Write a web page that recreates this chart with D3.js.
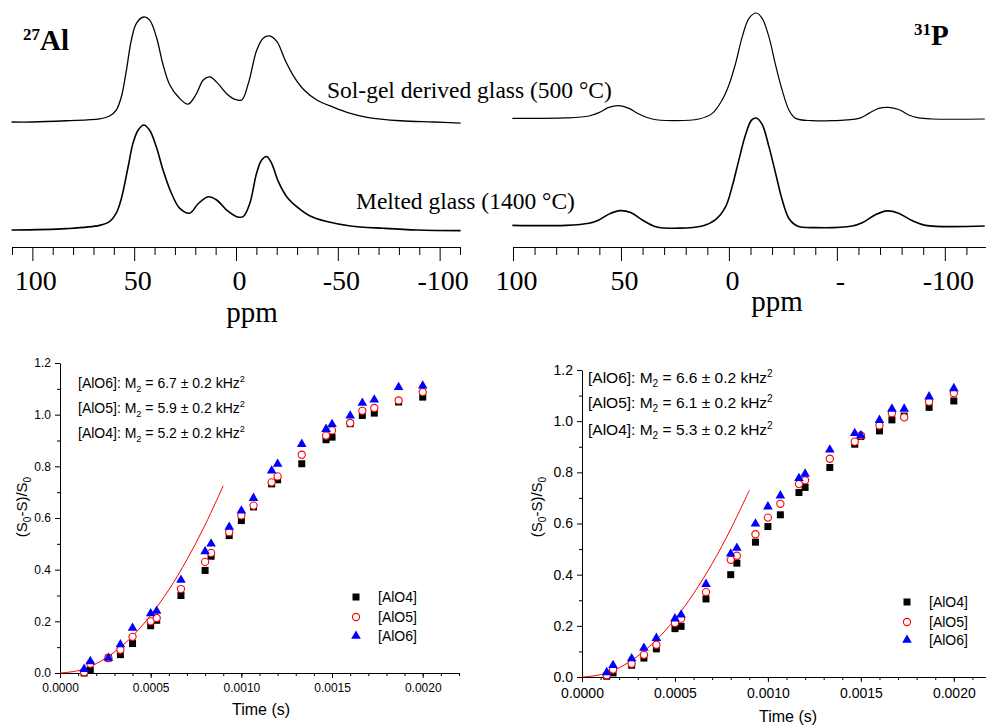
<!DOCTYPE html>
<html>
<head>
<meta charset="utf-8">
<script src="https://cdn.jsdelivr.net/npm/d3@7"></script>
<style>
  body { margin: 0; background: #fff; }
  svg { display: block; }
</style>
</head>
<body>
<script>
// ---- spectra (ppm vs. relative intensity) ----
var alPpm1 = [110.2, 99.8, 83.4, 67, 62.1, 58.8, 56.3, 53.8, 51.4, 48.9, 45.3, 42.4, 39.1, 35.8, 32.5, 28.4, 23.5, 19.4, 16.1, 12.8, 9.5, 4.6, 0.5, -2.8, -6.1, -10.2, -13.5, -16.4, -20.1, -24.1, -28.2, -33.2, -39.7, -48, -56.2, -64.4, -80.8, -97, -110.3];
var alInt1 = [0, 0, 0.012, 0.03, 0.057, 0.114, 0.24, 0.495, 0.78, 0.94, 1.0, 0.97, 0.81, 0.543, 0.352, 0.24, 0.17, 0.27, 0.4, 0.43, 0.38, 0.27, 0.216, 0.21, 0.37, 0.686, 0.8, 0.82, 0.765, 0.59, 0.44, 0.31, 0.21, 0.14, 0.083, 0.045, 0.012, 0, -0.01];

var alPpm2 = [110.2, 83.4, 67, 62.1, 58.8, 56.3, 53, 50.6, 48.1, 45.3, 42.4, 39.1, 35.8, 31.7, 27.6, 22.7, 18.6, 13.6, 9.5, 4.6, -0.3, -3.5, -6.8, -10.1, -12.6, -15.1, -17.5, -20.8, -24.9, -29.8, -36.4, -44.6, -56.2, -72.6, -89, -110.3];
var alInt2 = [0, 0.013, 0.044, 0.08, 0.16, 0.3, 0.6, 0.825, 0.95, 1.0, 0.95, 0.79, 0.57, 0.35, 0.206, 0.16, 0.25, 0.317, 0.286, 0.19, 0.127, 0.127, 0.254, 0.54, 0.667, 0.7, 0.635, 0.46, 0.317, 0.222, 0.133, 0.08, 0.038, 0.016, 0, -0.006];

var pPpm1 = [100.3, 75.6, 64.8, 60.2, 55.6, 50.9, 46.3, 41.7, 35.5, 26.2, 13.9, 7.7, 3.1, 0, -3.1, -6.2, -9.3, -12.7, -15.4, -18.5, -21.6, -24.7, -27.8, -30.9, -38.6, -47.8, -60.2, -64.8, -69.4, -74, -78.6, -83.3, -87.9, -94.1, -118.5];
var pInt1 = [0.006, 0.01, 0.028, 0.06, 0.11, 0.126, 0.1, 0.047, 0, -0.016, 0, 0.053, 0.18, 0.32, 0.525, 0.777, 0.95, 1.0, 0.95, 0.777, 0.51, 0.27, 0.085, 0.006, -0.016, -0.016, 0.006, 0.053, 0.1, 0.11, 0.09, 0.038, 0.01, 0, 0];

var pPpm2 = [100.3, 75.6, 64.8, 60.2, 55.6, 50.2, 45.5, 40.1, 33.9, 23.1, 12.3, 6.2, 1.5, -1.5, -4.6, -7.7, -10.5, -12.7, -15.4, -18.5, -21.6, -24.7, -27.8, -31.7, -40.1, -57.1, -61.7, -67.9, -73.3, -78.6, -84.8, -91, -118.5];
var pInt2 = [0.006, 0.006, 0.025, 0.056, 0.11, 0.142, 0.124, 0.056, -0.006, -0.02, 0, 0.06, 0.18, 0.365, 0.61, 0.845, 0.98, 1.0, 0.94, 0.737, 0.49, 0.24, 0.07, 0, -0.015, 0, 0.03, 0.105, 0.14, 0.118, 0.05, 0.006, 0];

var spectrumTicks = [100, 50, 0, -50, -100];
var alTickLabels = ["100", "50", "0", "-50", "-100"];
var pTickLabels = ["100", "50", "0", "-", "-100"];

// ---- REDOR-type curves (time in s vs. (S0-S)/S0) ----
var times = [0.000133, 0.000167, 0.000267, 0.000333, 0.0004, 0.0005, 0.000533, 0.000667, 0.0008, 0.000833, 0.000933, 0.001, 0.001067, 0.001167, 0.0012, 0.001333, 0.001467, 0.0015, 0.0016, 0.001667, 0.001733, 0.001867, 0.002];

var alo4Left = [0.0, 0.01, 0.058, 0.071, 0.114, 0.183, 0.204, 0.30, 0.397, 0.452, 0.532, 0.59, 0.643, 0.732, 0.748, 0.81, 0.903, 0.913, 0.965, 0.997, 1.006, 1.049, 1.068];
var alo5Left = [0.003, 0.036, 0.058, 0.09, 0.14, 0.2, 0.213, 0.325, 0.43, 0.465, 0.545, 0.61, 0.648, 0.738, 0.761, 0.845, 0.919, 0.939, 0.968, 1.015, 1.026, 1.055, 1.088];
var alo6Left = [0.015, 0.045, 0.058, 0.11, 0.174, 0.23, 0.24, 0.36, 0.47, 0.50, 0.565, 0.628, 0.677, 0.783, 0.809, 0.886, 0.944, 0.963, 0.996, 1.045, 1.058, 1.106, 1.112];

var alo4Right = [0.003, 0.016, 0.046, 0.074, 0.11, 0.189, 0.198, 0.305, 0.40, 0.445, 0.527, 0.588, 0.634, 0.721, 0.741, 0.819, 0.91, 0.94, 0.962, 1.005, 1.02, 1.054, 1.079];
var alo5Right = [0.007, 0.029, 0.052, 0.087, 0.126, 0.211, 0.228, 0.332, 0.458, 0.474, 0.558, 0.623, 0.677, 0.754, 0.769, 0.853, 0.92, 0.944, 0.983, 1.031, 1.015, 1.076, 1.109];
var alo6Right = [0.018, 0.046, 0.072, 0.113, 0.152, 0.228, 0.243, 0.363, 0.482, 0.504, 0.599, 0.666, 0.709, 0.777, 0.794, 0.888, 0.953, 0.944, 1.004, 1.048, 1.048, 1.096, 1.128];

var fitTimes = [0, 0.0001, 0.0002, 0.0003, 0.0004, 0.0005, 0.0006, 0.0007, 0.0008, 0.0009];
var fitLeft = [0, 0.009, 0.036, 0.081, 0.143, 0.224, 0.322, 0.439, 0.573, 0.725];
var fitRight = [0, 0.009, 0.036, 0.082, 0.145, 0.226, 0.326, 0.443, 0.578, 0.73];

var seriesNames = ["[AlO4]", "[AlO5]", "[AlO6]"];
var m2Left = ["6.7", "5.9", "5.2"];
var m2Right = ["6.6", "6.1", "5.3"];
var m2Names = ["[AlO6]", "[AlO5]", "[AlO4]"];

var yTicks = [0, 0.2, 0.4, 0.6, 0.8, 1.0, 1.2];
var xTicks = [0, 0.0005, 0.001, 0.0015, 0.002];

var width = 986, height = 725;
var serif = "'Liberation Serif', 'DejaVu Serif', serif";
var sans = "'Liberation Sans', Arial, sans-serif";

var svg = d3.select("body").append("svg")
    .attr("width", width)
    .attr("height", height);

function spectrumPanel(cfg) {
  var x = d3.scaleLinear().domain(cfg.domain).range(cfg.range);

  cfg.traces.forEach(function(t) {
    var y = d3.scaleLinear().domain([0, 1]).range([t.base, t.base - t.h]);
    var line = d3.line()
        .x(function(d) { return x(d[0]); })
        .y(function(d) { return y(d[1]); })
        .curve(d3.curveCatmullRom.alpha(0.5));
    svg.append("path")
        .datum(d3.zip(t.ppm, t.inten))
        .attr("d", line)
        .attr("fill", "none")
        .attr("stroke", "#000")
        .attr("stroke-width", t.sw);
  });

  var minor = d3.range(cfg.domain[0], cfg.domain[1] - 1, -10)
      .filter(function(v) { return v % 50 !== 0; });

  var gMinor = svg.append("g")
      .attr("transform", "translate(0," + cfg.axisY + ")")
      .call(d3.axisBottom(x).tickValues(minor).tickSize(8).tickSizeOuter(0).tickFormat(""));
  gMinor.select(".domain").remove();

  var gMajor = svg.append("g")
      .attr("transform", "translate(0," + cfg.axisY + ")")
      .call(d3.axisBottom(x).tickValues(spectrumTicks).tickSize(14).tickSizeOuter(0)
        .tickPadding(9)
        .tickFormat(function(d, i) { return cfg.labels[i]; }));
  gMajor.selectAll("text")
      .attr("fill", "#000")
      .attr("dx", 3)
      .style("font-family", serif)
      .style("font-size", "28px");
  svg.selectAll("g.tick line, .domain").attr("stroke", "#000");

  svg.append("text")
      .attr("x", cfg.ppmX).attr("y", cfg.ppmY)
      .attr("text-anchor", "middle")
      .style("font-family", serif)
      .style("font-size", "29px")
      .text("ppm");
}

spectrumPanel({
  domain: [110, -110], range: [12, 460], axisY: 247,
  labels: alTickLabels, ppmX: 252, ppmY: 322,
  traces: [
    { ppm: alPpm1, inten: alInt1, base: 122, h: 105, sw: 1.3 },
    { ppm: alPpm2, inten: alInt2, base: 230, h: 105, sw: 1.6 }
  ]
});

spectrumPanel({
  domain: [100, -120], range: [513, 988], axisY: 247,
  labels: pTickLabels, ppmX: 777, ppmY: 311,
  traces: [
    { ppm: pPpm1, inten: pInt1, base: 119, h: 106, sw: 1.2 },
    { ppm: pPpm2, inten: pInt2, base: 226, h: 108, sw: 1.6 }
  ]
});

// sample labels
svg.append("text").attr("x", 327).attr("y", 98)
    .style("font-family", serif).style("font-size", "23.5px")
    .text("Sol-gel derived glass (500 °C)");
svg.append("text").attr("x", 356).attr("y", 209)
    .style("font-family", serif).style("font-size", "23.5px")
    .text("Melted glass (1400 °C)");

function nucleus(xPos, yPos, mass, sym) {
  var t = svg.append("text").attr("x", xPos).attr("y", yPos)
      .style("font-family", serif).style("font-weight", "bold");
  t.append("tspan").attr("dy", -10).style("font-size", "17px").text(mass);
  t.append("tspan").attr("dy", 10).style("font-size", "29px").text(sym);
}
nucleus(23, 50, "27", "Al");
nucleus(914, 45, "31", "P");

// ---- bottom panels ----
function redorPanel(cfg) {
  var x = d3.scaleLinear().domain([0, 0.0022]).range(cfg.xr);
  var y = d3.scaleLinear().domain([0, 1.2]).range(cfg.yr);

  var gx = svg.append("g").attr("transform", "translate(0," + cfg.yr[0] + ")");
  gx.call(d3.axisBottom(x).tickValues(d3.range(1, 23).map(function(i) { return i * 0.0001; }))
      .tickSize(3).tickSizeOuter(0).tickFormat(""));
  gx.select(".domain").remove();
  var gx2 = svg.append("g").attr("transform", "translate(0," + cfg.yr[0] + ")");
  gx2.call(d3.axisBottom(x).tickValues(xTicks).tickSize(5).tickSizeOuter(0)
      .tickPadding(cfg.xPad).tickFormat(d3.format(".4f")));

  var gy = svg.append("g").attr("transform", "translate(" + cfg.xr[0] + ",0)");
  gy.call(d3.axisLeft(y).tickValues([0.1, 0.3, 0.5, 0.7, 0.9, 1.1])
      .tickSize(3).tickSizeOuter(0).tickFormat(""));
  gy.select(".domain").remove();
  var gy2 = svg.append("g").attr("transform", "translate(" + cfg.xr[0] + ",0)");
  gy2.call(d3.axisLeft(y).tickValues(yTicks).tickSize(5).tickSizeOuter(0)
      .tickPadding(4).tickFormat(d3.format(".1f")));

  [gx, gx2, gy, gy2].forEach(function(g) {
    g.selectAll("line, path").attr("stroke", "#000");
    g.selectAll("text").attr("fill", "#000")
        .style("font-family", sans).style("font-size", cfg.tickFont + "px");
  });

  // fitted curve
  svg.append("path")
      .datum(d3.zip(fitTimes, cfg.fit))
      .attr("d", d3.line()
        .x(function(d) { return x(d[0]); })
        .y(function(d) { return y(d[1]); })
        .curve(d3.curveCatmullRom))
      .attr("fill", "none")
      .attr("stroke", "#ff0000")
      .attr("stroke-width", 1);

  var sq = d3.symbol(d3.symbolSquare, 49);
  var tri = d3.symbol(d3.symbolTriangle, 40);

  function drawMarker(g, k) {
    if (k === 0) {
      g.append("path").attr("d", sq).attr("fill", "#000");
    } else if (k === 1) {
      g.append("circle").attr("r", 3.6).attr("fill", "#fff")
          .attr("stroke", "#ff0000").attr("stroke-width", 1.1);
    } else {
      g.append("path").attr("d", tri).attr("fill", "#0000ff");
    }
  }

  cfg.series.forEach(function(vals, k) {
    d3.zip(times, vals).forEach(function(p) {
      var g = svg.append("g").attr("transform", "translate(" + x(p[0]) + "," + y(p[1]) + ")");
      drawMarker(g, k);
    });
  });

  // legend
  seriesNames.forEach(function(name, k) {
    var ly = cfg.legY[k];
    var g = svg.append("g").attr("transform", "translate(" + cfg.legX + "," + ly + ")");
    drawMarker(g, k);
    svg.append("text").attr("x", cfg.legX + 22).attr("y", ly + 5)
        .style("font-family", sans).style("font-size", "14px")
        .text(name);
  });

  // M2 annotations
  m2Names.forEach(function(name, k) {
    var t = svg.append("text").attr("x", cfg.annX).attr("y", cfg.annY[k])
        .style("font-family", sans).style("font-size", cfg.annFont + "px");
    t.append("tspan").text(name + ": M");
    t.append("tspan").attr("dy", 4).style("font-size", (cfg.annFont * 0.65) + "px").text("2");
    t.append("tspan").attr("dy", -4).text(" = " + cfg.m2[k] + " ± 0.2 kHz");
    t.append("tspan").attr("dy", -6).style("font-size", (cfg.annFont * 0.65) + "px").text("2");
  });

  // axis titles
  svg.append("text").attr("x", cfg.timeX).attr("y", cfg.timeY)
      .attr("text-anchor", "middle")
      .style("font-family", sans).style("font-size", "16px")
      .text("Time (s)");

  var yt = svg.append("text")
      .attr("transform", "translate(" + cfg.ytX + "," + cfg.ytY + ") rotate(-90)")
      .attr("text-anchor", "middle")
      .style("font-family", sans).style("font-size", "15px");
  yt.append("tspan").text("(S");
  yt.append("tspan").attr("dy", 4).style("font-size", "10px").text("0");
  yt.append("tspan").attr("dy", -4).text("-S)/S");
  yt.append("tspan").attr("dy", 4).style("font-size", "10px").text("0");
}

redorPanel({
  xr: [60, 459], yr: [673, 363], xPad: 5, tickFont: 12,
  series: [alo4Left, alo5Left, alo6Left], fit: fitLeft, m2: m2Left,
  legX: 356, legY: [597, 617, 636],
  annX: 78, annY: [388, 413, 438], annFont: 14,
  timeX: 261, timeY: 715, ytX: 27, ytY: 507
});

redorPanel({
  xr: [582, 991], yr: [677, 370], xPad: 6, tickFont: 14,
  series: [alo4Right, alo5Right, alo6Right], fit: fitRight, m2: m2Right,
  legX: 907, legY: [602, 622, 640],
  annX: 588, annY: [383, 408, 435], annFont: 15.5,
  timeX: 788, timeY: 722, ytX: 542, ytY: 507
});
</script>
</body>
</html>
